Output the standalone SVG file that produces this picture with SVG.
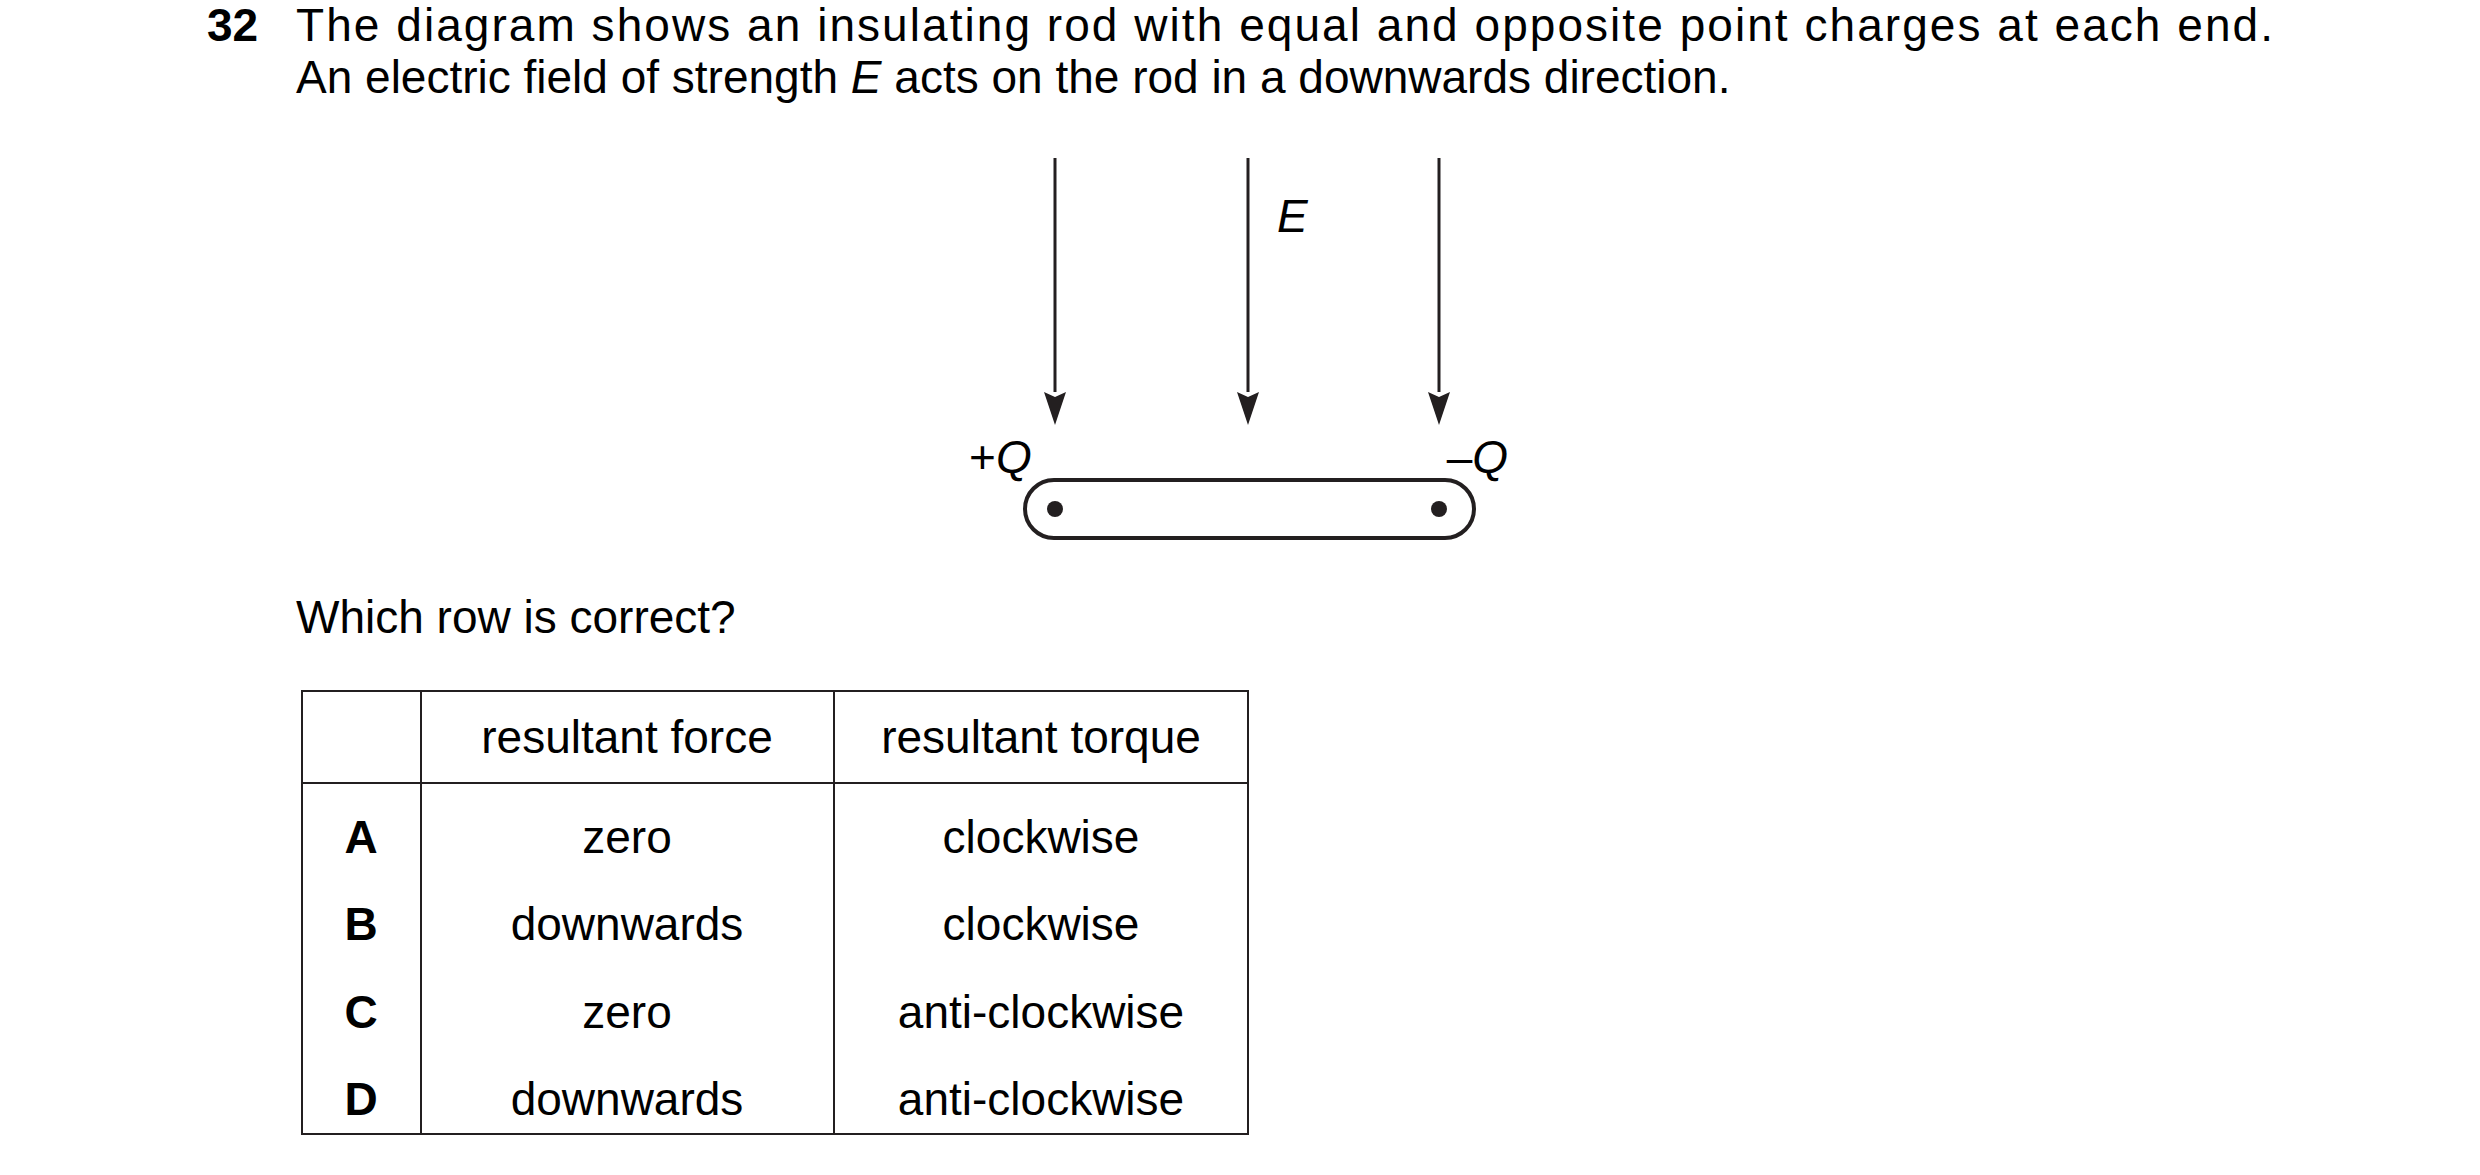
<svg xmlns="http://www.w3.org/2000/svg" width="2480" height="1175" viewBox="0 0 2480 1175">
<style>
text{font-family:"Liberation Sans",Arial,sans-serif;font-size:46px;fill:#000}
.b{font-weight:bold}
.i{font-style:italic}
.c{text-anchor:middle}
.ln{stroke:#231f20;stroke-width:3;fill:none}
.tb{stroke:#231f20;stroke-width:2;fill:none}
</style>
<defs>
<marker id="ah" markerUnits="userSpaceOnUse" markerWidth="22" markerHeight="34" refX="11" refY="33" orient="auto-start-reverse" viewBox="0 0 22 34">
<path d="M0,0 L11,4 L22,0 L11,34 Z" fill="#231f20" transform="rotate(0)"/>
</marker>
</defs>
<rect width="2480" height="1175" fill="#fff"/>
<g id="question">
<text x="207" y="41" class="b">32</text>
<text x="296" y="41" textLength="1977" lengthAdjust="spacing">The diagram shows an insulating rod with equal and opposite point charges at each end.</text>
<text x="296" y="93">An electric field of strength <tspan class="i">E</tspan> acts on the rod in a downwards direction.</text>
<text x="296" y="633">Which row is correct?</text>
</g>
<g id="connectors">
<path class="ln" d="M1055,158 V392" />
<path class="ln" d="M1248,158 V392" />
<path class="ln" d="M1439,158 V392" />
<path d="M1044,392 L1055,397 L1066,392 L1055,425 Z" fill="#231f20"/>
<path d="M1237,392 L1248,397 L1259,392 L1248,425 Z" fill="#231f20"/>
<path d="M1428,392 L1439,397 L1450,392 L1439,425 Z" fill="#231f20"/>
</g>
<g id="field-label"><text x="1277" y="232" class="i">E</text></g>
<g id="rod">
<rect x="1025" y="480" width="449" height="58" rx="29" ry="29" stroke="#231f20" stroke-width="4" fill="none"/>
<circle cx="1055" cy="509" r="8" fill="#231f20"/>
<circle cx="1439" cy="509" r="8" fill="#231f20"/>
<text x="969" y="473">+<tspan class="i">Q</tspan></text>
<text x="1508" y="473" text-anchor="end">–<tspan class="i">Q</tspan></text>
</g>
<g id="table">
<rect class="tb" x="302" y="691" width="946" height="443"/>
<line class="tb" x1="421" y1="691" x2="421" y2="1134"/>
<line class="tb" x1="834" y1="691" x2="834" y2="1134"/>
<line class="tb" x1="302" y1="783" x2="1248" y2="783"/>
<text x="627" y="753" class="c">resultant force</text>
<text x="1041" y="753" class="c">resultant torque</text>
<text x="361" y="853" class="c b">A</text>
<text x="627" y="853" class="c">zero</text>
<text x="1041" y="853" class="c">clockwise</text>
<text x="361" y="940" class="c b">B</text>
<text x="627" y="940" class="c">downwards</text>
<text x="1041" y="940" class="c">clockwise</text>
<text x="361" y="1028" class="c b">C</text>
<text x="627" y="1028" class="c">zero</text>
<text x="1041" y="1028" class="c">anti-clockwise</text>
<text x="361" y="1115" class="c b">D</text>
<text x="627" y="1115" class="c">downwards</text>
<text x="1041" y="1115" class="c">anti-clockwise</text>
</g>
</svg>
